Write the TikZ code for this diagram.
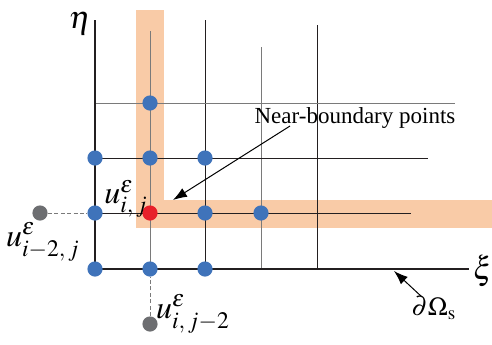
\documentclass[tikz,border=0pt]{standalone}
\usepackage{mathptmx}
\usepackage{fontspec}
\setmainfont{Liberation Serif}
\newfontfamily\metin{Liberation Serif}
\usepackage{tikz}
\usetikzlibrary{arrows.meta}
\definecolor{bantTuruncu}{HTML}{F9CBA7}
\definecolor{noktaMavi}{HTML}{3F73BA}
\definecolor{noktaKirmizi}{HTML}{E8202A}
\definecolor{noktaGri}{HTML}{6D6E71}
\definecolor{cizgiGri}{HTML}{7A7A7A}
\definecolor{cizgiKoyu}{HTML}{231F20}

\begin{document}
\begin{tikzpicture}[x=0.5pt,y=-0.5pt,
  nokta/.style={circle,inner sep=0pt,minimum size=7.6pt},
  izgara/.style={line width=0.45pt,cizgiKoyu},
  etiket/.style={font=\fontsize{16}{18}\selectfont,inner sep=0pt}]
\useasboundingbox (0,0) rectangle (492,344);
% sinir bandi
\fill[bantTuruncu] (136,10) rectangle (164,228);
\fill[bantTuruncu] (136,200) rectangle (492,228);
% izgara
\draw[izgara,cizgiGri] (150,31) -- (150,269);
\draw[izgara] (205,20) -- (205,269);
\draw[izgara,cizgiGri] (261,47) -- (261,269);
\draw[izgara] (317,25) -- (317,269);
\draw[izgara,cizgiGri] (95,103) -- (455,103);
\draw[izgara] (95,158) -- (428,158);
\draw[izgara] (95,213) -- (411,213);
% eksenler
\draw[line width=1.3pt,cizgiKoyu] (95,20) -- (95,269) -- (469,269);
\node[etiket] (eta) at (80,24) {$\eta$};
\node[etiket] (xi) at (483,271) {$\xi$};
% noktalar
\foreach \ad/\px/\py in {m1/150/103,m2/95/158,m3/150/158,m4/205/158,
  m5/95/213,m6/205/213,m7/261/213,m8/95/269,m9/150/269,m10/205/269}
  \node[nokta,fill=noktaMavi] (\ad) at (\px,\py) {};
\node[nokta,fill=noktaKirmizi] (uij) at (150,213) {};
\node[nokta,fill=noktaGri] (usol) at (40,213) {};
\node[nokta,fill=noktaGri] (ualt) at (150,324) {};
\draw[line width=0.5pt,cizgiGri,dash pattern=on 2pt off 1.2pt] (usol) -- (m5);
\draw[line width=0.5pt,cizgiGri,dash pattern=on 2pt off 1.2pt] (ualt) -- (m9);
% etiketler
\node[etiket] (luij) at (126,199) {$u^{\varepsilon}_{i,\,j}$};
\node[etiket] (lsol) at (43,242) {$u^{\varepsilon}_{i-2,\,j}$};
\node[etiket] (lalt) at (193,314) {$u^{\varepsilon}_{i,\,j-2}$};
\node[font=\metin\fontsize{11.5}{13}\selectfont,inner sep=0pt] (yakin) at (355,118) {Near-boundary points};
\node[font=\fontsize{13}{15}\selectfont,inner sep=0pt] (sinir) at (434,308) {$\partial\Omega_{\mathrm{s}}$};
\coordinate (yakinBas) at (290,126);
\coordinate (yakinUc) at (173,200);
\coordinate (sinirBas) at (422,297);
\coordinate (sinirUc) at (394,271);
\draw[line width=0.5pt,-{Latex[length=7pt,width=5pt]}] (yakinBas) -- (yakinUc);
\draw[line width=0.5pt,-{Latex[length=7pt,width=5pt]}] (sinirBas) -- (sinirUc);
\end{tikzpicture}
\end{document}
